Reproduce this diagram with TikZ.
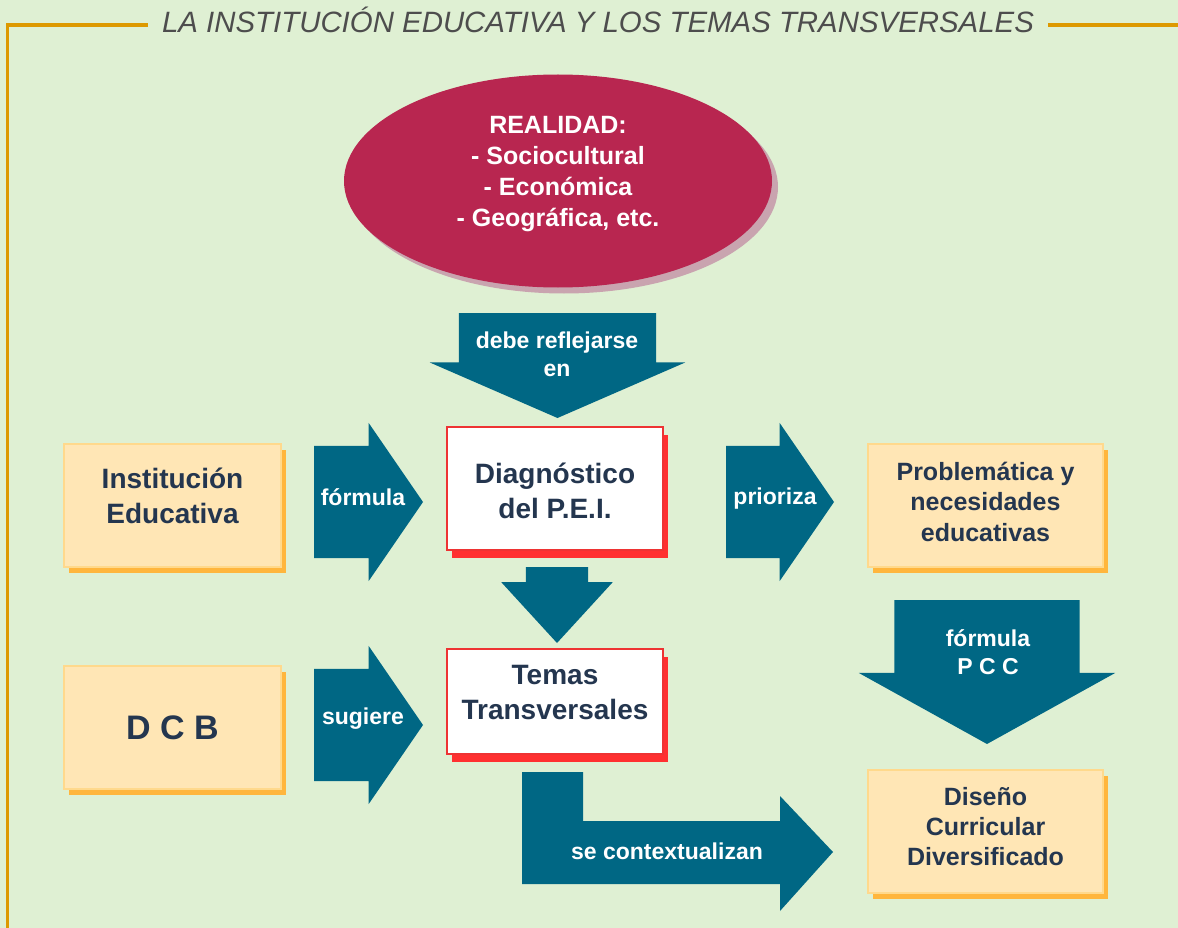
\documentclass[tikz,border=0pt]{standalone}
\usepackage{fontspec}
\setmainfont{Liberation Sans}
\usetikzlibrary{positioning,shapes.geometric,shapes.arrows,shadows}

\definecolor{fondo}{HTML}{DFF0D3}
\definecolor{marco}{HTML}{DD9900}
\definecolor{gristitulo}{HTML}{4D4D4D}
\definecolor{flecha}{HTML}{006784}
\definecolor{vino}{HTML}{B82650}
\definecolor{vinosombra}{HTML}{C9A4AF}
\definecolor{crema}{HTML}{FFE6B5}
\definecolor{cremaborde}{HTML}{FFD98C}
\definecolor{naranja}{HTML}{FFB63D}
\definecolor{rojo}{HTML}{EE3333}
\definecolor{rojosombra}{HTML}{FF3030}
\definecolor{tinta}{HTML}{24364F}

\tikzset{
  cremabox/.style={rectangle, fill=crema, draw=cremaborde, line width=1.5pt,
    minimum width=217pt, minimum height=123pt,
    drop shadow={shadow xshift=4.5pt, shadow yshift=-5.5pt, fill=naranja, opacity=1}},
  rojobox/.style={rectangle, fill=white, draw=rojo, line width=1.2pt,
    minimum width=216pt,
    drop shadow={shadow xshift=5pt, shadow yshift=-8pt, fill=rojosombra, opacity=1}},
  texto/.style={text=tinta, align=center, inner sep=0pt,
    font=\bfseries\fontsize{28}{35}\selectfont},
  bloque/.style={single arrow, fill=flecha, draw=none, inner sep=0pt, outer sep=0pt,
    single arrow head indent=0pt, anchor=tail},
  etiqueta/.style={text=white, font=\bfseries\fontsize{23}{28}\selectfont,
    align=center, inner sep=0pt},
  marcolinea/.style={draw=marco, line width=3.3pt}
}

\begin{document}
\begin{tikzpicture}[x=1pt,y=-1pt,on grid]
  \fill[fondo] (0,0) rectangle (1178,928);
  \useasboundingbox (0,0) rectangle (1178,928);

  % titulo y marco
  \node[anchor=base, text=gristitulo, font=\itshape\fontsize{29.4}{29.4}\selectfont,
    inner xsep=14pt] (titulo) at (598,33)
    {LA INSTITUCIÓN EDUCATIVA Y LOS TEMAS TRANSVERSALES};
  \coordinate (esquina) at (7.5,25);
  \coordinate (derecha) at (1178,25);
  \draw[marcolinea] (7.5,928) -- (esquina) -- (titulo.west |- esquina);
  \draw[marcolinea] (titulo.east |- derecha) -- (derecha);

  % realidad
  \node[ellipse, fill=vino, minimum width=428pt, minimum height=213pt, inner sep=0pt,
    drop shadow={shadow xshift=6pt, shadow yshift=-6pt, fill=vinosombra, opacity=1}]
    (realidad) at (558,181) {};
  \node[texto, text=white, font=\bfseries\fontsize{25}{31}\selectfont]
    (realidad texto) at ([yshift=7pt]realidad.center)
    {REALIDAD:\\- Sociocultural\\- Económica\\- Geográfica, etc.};

  % cajas
  \node[cremabox] (inst) at (172.5,505.5) {};
  \node[cremabox, below=222pt of inst] (dcb) {};
  \node[rojobox, minimum height=123pt] (diag) at (555,488.5) {};
  \node[rojobox, minimum height=105pt, below=213pt of diag] (temas) {};
  \node[cremabox, minimum width=235pt] (prob) at (985.5,505.5) {};
  \node[cremabox, minimum width=235pt, below=326pt of prob] (diseno) {};

  \node[texto] (inst texto) at ([yshift=10pt]inst.center) {Institución\\Educativa};
  \node[texto, font=\bfseries\fontsize{34}{40}\selectfont] (dcb texto) at (dcb.center) {D C B};
  \node[texto] (diag texto) at ([yshift=-2pt]diag.center) {Diagnóstico\\del P.E.I.};
  \node[texto] (temas texto) at ([yshift=9pt]temas.center) {Temas\\Transversales};
  \node[texto, font=\bfseries\fontsize{25}{30.5}\selectfont] (prob texto)
    at ([yshift=4pt]prob.center) {Problemática y\\necesidades\\educativas};
  \node[texto, font=\bfseries\fontsize{25}{30}\selectfont] (diseno texto)
    at ([yshift=4.5pt]diseno.center) {Diseño\\Curricular\\Diversificado};

  % flechas
  \node[bloque, rotate=-90, minimum height=105pt, inner ysep=98.5pt,
    single arrow head extend=29pt, single arrow tip angle=133] (fl debe) at (557.5,313) {};
  \node[bloque, minimum height=109pt, inner ysep=56pt,
    single arrow head extend=23pt, single arrow tip angle=111] (fl formula) at (314,502) {};
  \node[bloque, minimum height=108pt, inner ysep=56pt,
    single arrow head extend=23pt, single arrow tip angle=111] (fl prioriza) at (726,502) {};
  \node[bloque, minimum height=109pt, inner ysep=56pt,
    single arrow head extend=23pt, single arrow tip angle=111] (fl sugiere) at (314,725) {};
  \node[bloque, rotate=-90, minimum height=76pt, inner ysep=31pt,
    single arrow head extend=24.5pt, single arrow tip angle=85] (fl temas) at (557,567) {};
  \node[bloque, rotate=-90, minimum height=144pt, inner ysep=92.5pt,
    single arrow head extend=35.5pt, single arrow tip angle=122] (fl pcc) at (987,600) {};
  \fill[flecha] (522,772) -- (583,772) -- (583,821) -- (780,821) -- (780,796)
    -- (833,852) -- (780,911) -- (780,884) -- (522,884) -- cycle;

  % etiquetas
  \node[etiqueta] (lbl debe) at (557,354) {debe reflejarse\\en};
  \node[etiqueta] (lbl formula) at (363,497) {fórmula};
  \node[etiqueta] (lbl prioriza) at (775,499) {prioriza};
  \node[etiqueta] (lbl sugiere) at (363,719) {sugiere};
  \node[etiqueta] (lbl pcc) at (988,652) {fórmula\\P C C};
  \node[etiqueta] (lbl contexto) at (667,851) {se contextualizan};
\end{tikzpicture}
\end{document}
